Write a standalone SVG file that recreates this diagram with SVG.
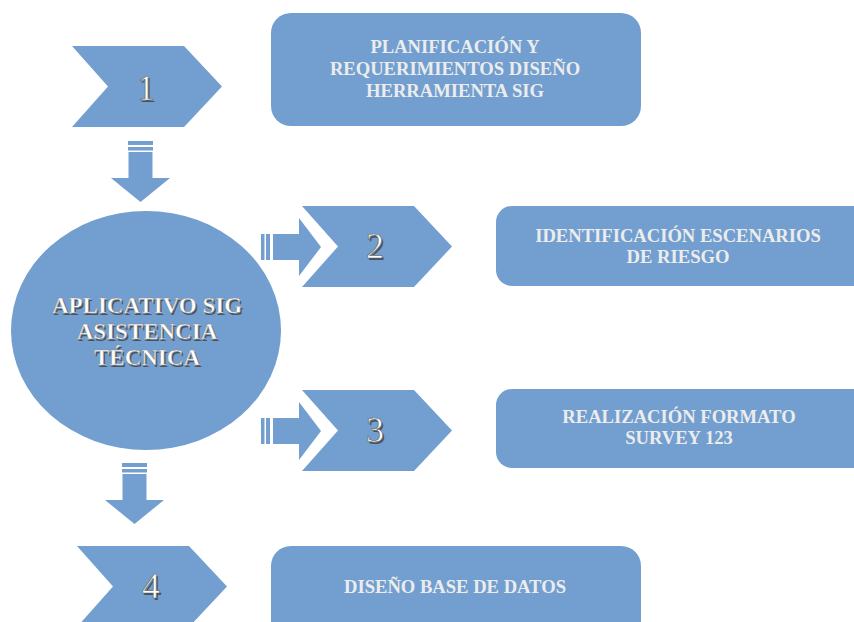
<svg xmlns="http://www.w3.org/2000/svg" width="854" height="622" viewBox="0 0 854 622">
  <style>
    .shape { fill: #729fcf; }
    .box-text { font-family: "Liberation Serif", "Times New Roman", serif; font-weight: bold; font-size: 18.6px; fill: #ececec; text-anchor: middle; }
    .hub-text { font-family: "Liberation Serif", "Times New Roman", serif; font-weight: bold; font-size: 23px; fill: #ffffff; text-anchor: middle; stroke: #8a8a8a; stroke-width: 0.5; }
    .hub-shadow { font-family: "Liberation Serif", "Times New Roman", serif; font-weight: bold; font-size: 23px; fill: #3a3a3a; text-anchor: middle; opacity: 0.75; }
    .num { font-family: "Liberation Serif", "Times New Roman", serif; font-size: 36px; fill: #ffffff; stroke: #6a6a6a; stroke-width: 0.7; text-anchor: middle; }
    .num-shadow { font-family: "Liberation Serif", "Times New Roman", serif; font-size: 36px; fill: #333333; text-anchor: middle; opacity: 0.7; }
  </style>
  <defs>
    <!-- chevron with origin at its top-left corner -->
    <polygon id="chevron" points="0,0 112,0 150,40.5 112,81 0,81 36,40.5"/>
    <!-- block arrow pointing down, origin at top-left of stripes -->
    <g id="arrow-down">
      <rect x="0" y="0" width="25" height="4"/>
      <rect x="0" y="6" width="25" height="3.5"/>
      <rect x="0.5" y="11" width="24" height="26"/>
      <polygon points="-17,37 42,37 12.5,61"/>
    </g>
    <!-- block arrow pointing right, origin at left of stripes, vertically centred -->
    <g id="arrow-right">
      <rect x="0" y="-13" width="3.5" height="26"/>
      <rect x="5" y="-13" width="4" height="26"/>
      <rect x="12" y="-13" width="26" height="26"/>
      <polygon points="38,-29 60,0 38,29"/>
    </g>
  </defs>

  <rect width="854" height="622" fill="#ffffff"/>

  <g id="connectors" class="shape">
    <use href="#arrow-down" x="128" y="141"/>
    <use href="#arrow-down" x="122" y="463"/>
    <use href="#arrow-right" x="261" y="247"/>
    <use href="#arrow-right" x="261" y="431"/>
  </g>

  <g id="hub">
    <ellipse class="shape" cx="146" cy="330.5" rx="135" ry="119.5"/>
    <text class="hub-shadow" x="148.5" y="314.5">APLICATIVO SIG</text>
    <text class="hub-shadow" x="148.5" y="340.5">ASISTENCIA</text>
    <text class="hub-shadow" x="148.5" y="366.5">TÉCNICA</text>
    <text class="hub-text" x="147" y="313">APLICATIVO SIG</text>
    <text class="hub-text" x="147" y="339">ASISTENCIA</text>
    <text class="hub-text" x="147" y="365">TÉCNICA</text>
  </g>

  <g id="step-1">
    <use href="#chevron" class="shape" x="72" y="46"/>
    <text class="num-shadow" x="147.5" y="101.5">1</text>
    <text class="num" x="146" y="100">1</text>
  </g>
  <g id="task-1">
    <rect class="shape" x="271" y="13" width="370" height="113" rx="20"/>
    <text class="box-text" x="455" y="53">PLANIFICACIÓN Y</text>
    <text class="box-text" x="455" y="75">REQUERIMIENTOS DISEÑO</text>
    <text class="box-text" x="455" y="97">HERRAMIENTA SIG</text>
  </g>

  <g id="step-2">
    <use href="#chevron" class="shape" x="302" y="206"/>
    <text class="num-shadow" x="376.5" y="259.5">2</text>
    <text class="num" x="375" y="258">2</text>
  </g>
  <g id="task-2">
    <rect class="shape" x="496" y="206" width="390" height="80" rx="16"/>
    <text class="box-text" x="678" y="242">IDENTIFICACIÓN ESCENARIOS</text>
    <text class="box-text" x="678" y="263">DE RIESGO</text>
  </g>

  <g id="step-3">
    <use href="#chevron" class="shape" x="302" y="390"/>
    <text class="num-shadow" x="376.5" y="443.5">3</text>
    <text class="num" x="375" y="442">3</text>
  </g>
  <g id="task-3">
    <rect class="shape" x="496" y="389" width="390" height="79" rx="16"/>
    <text class="box-text" x="679" y="423">REALIZACIÓN FORMATO</text>
    <text class="box-text" x="679" y="444">SURVEY 123</text>
  </g>

  <g id="step-4">
    <use href="#chevron" class="shape" x="77" y="546"/>
    <text class="num-shadow" x="152.5" y="599.5">4</text>
    <text class="num" x="151" y="598">4</text>
  </g>
  <g id="task-4">
    <rect class="shape" x="271" y="546" width="370" height="113" rx="20"/>
    <text class="box-text" x="455" y="593">DISEÑO BASE DE DATOS</text>
  </g>
</svg>
